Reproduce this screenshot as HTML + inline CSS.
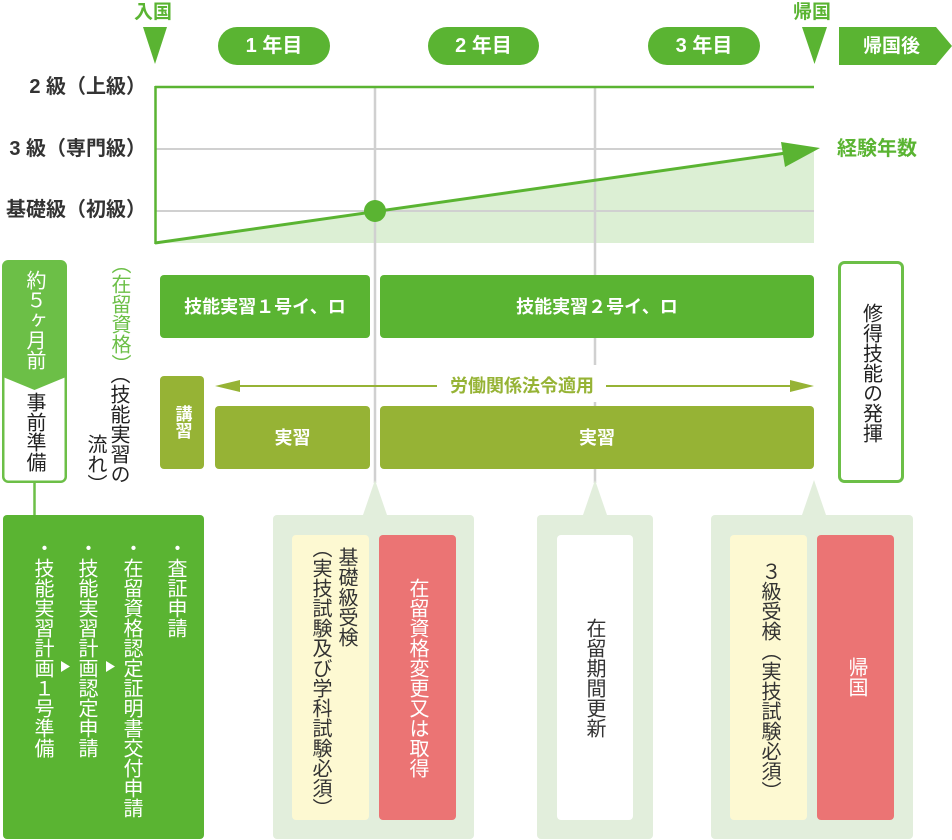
<!DOCTYPE html>
<html><head><meta charset="utf-8">
<style>
*{margin:0;padding:0;box-sizing:border-box}
html,body{width:952px;height:840px;background:#fff;overflow:hidden}
body{position:relative;font-family:"Liberation Sans","Noto Sans CJK JP",sans-serif;color:#333}
svg{position:absolute;left:0;top:0}
.t{position:absolute;white-space:nowrap;line-height:1}
.c{position:absolute;display:flex;align-items:center;justify-content:center;white-space:nowrap;line-height:1}
.v{position:absolute;writing-mode:vertical-rl;white-space:nowrap;line-height:1;font-size:20px;width:20px}
.b{font-weight:bold}
.w{color:#fff}
</style></head><body>
<svg width="952" height="840" xmlns="http://www.w3.org/2000/svg">
  <polygon points="155,243 814,149 814,243" fill="#dcefd4"/>
  <line x1="155" y1="149" x2="814" y2="149" stroke="#d0d0d0" stroke-width="2"/>
  <line x1="155" y1="211" x2="814" y2="211" stroke="#d0d0d0" stroke-width="2"/>
  <line x1="375" y1="87" x2="375" y2="483" stroke="#d0d0d0" stroke-width="2.5"/>
  <line x1="595" y1="87" x2="595" y2="365" stroke="#d0d0d0" stroke-width="2.5"/>
  <line x1="595" y1="402" x2="595" y2="483" stroke="#d0d0d0" stroke-width="2.5"/>
  <line x1="155" y1="87" x2="814" y2="87" stroke="#5ab432" stroke-width="2.5"/>
  <line x1="155.5" y1="86" x2="155.5" y2="244" stroke="#5ab432" stroke-width="2.5"/>
  <line x1="155" y1="243" x2="786" y2="153" stroke="#5ab432" stroke-width="3"/>
  <polygon points="820,148 781,142 785,167" fill="#5ab432"/>
  <circle cx="375" cy="211" r="11" fill="#5ab432"/>
  <polygon points="143,27 167,27 155,64" fill="#5ab432"/>
  <polygon points="802,27 827,27 814.5,64" fill="#5ab432"/>
  <rect x="218" y="27" width="112" height="38" rx="19" fill="#5ab432"/>
  <rect x="428" y="27" width="111" height="38" rx="19" fill="#5ab432"/>
  <rect x="648" y="27" width="112" height="38" rx="19" fill="#5ab432"/>
  <polygon points="839,27 936,27 952,46 936,65 839,65" fill="#5ab432"/>

  <rect x="3.25" y="261.25" width="62.5" height="220.5" rx="5" fill="#fff" stroke="#6cbf47" stroke-width="2.5"/>
  <path d="M3,377 L3,266 Q3,261 8,261 L61,261 Q66,261 66,266 L66,377 L34.5,390 Z" fill="#6cbf47"/>
  <line x1="34.5" y1="482" x2="34.5" y2="516" stroke="#6cbf47" stroke-width="2.5"/>

  <rect x="160" y="275" width="210" height="63" rx="4" fill="#5ab432"/>
  <rect x="380" y="275" width="434" height="63" rx="4" fill="#5ab432"/>
  <rect x="160" y="376" width="44" height="93" rx="4" fill="#96b335"/>
  <rect x="215" y="406" width="155" height="63" rx="4" fill="#96b335"/>
  <rect x="380" y="406" width="434" height="63" rx="4" fill="#96b335"/>
  <line x1="238" y1="386" x2="437" y2="386" stroke="#96b335" stroke-width="2"/>
  <line x1="606" y1="386" x2="792" y2="386" stroke="#96b335" stroke-width="2"/>
  <polygon points="215,386 240,380 240,392" fill="#96b335"/>
  <polygon points="814,386 790,380 790,392" fill="#96b335"/>

  <rect x="839.5" y="262.5" width="63" height="219" rx="5" fill="#fff" stroke="#6cbf47" stroke-width="3"/>

  <polygon points="363,515 387,515 375,480" fill="#e2eedc"/>
  <polygon points="583,515 607,515 595,480" fill="#e2eedc"/>
  <polygon points="802,515 826,515 814,480" fill="#e2eedc"/>

  <rect x="3" y="515" width="201" height="324" rx="4" fill="#5ab432"/>
  <polygon points="61,661 61,672 70,666.5" fill="#fff"/>
  <polygon points="106,661 106,672 115,666.5" fill="#fff"/>

  <rect x="273" y="515" width="201" height="324" rx="4" fill="#e2eedc"/>
  <rect x="292" y="535" width="77" height="285" rx="4" fill="#fdf9d2"/>
  <rect x="379" y="535" width="77" height="285" rx="4" fill="#eb7474"/>

  <rect x="537" y="515" width="116" height="324" rx="4" fill="#e2eedc"/>
  <rect x="557" y="535" width="76" height="285" rx="4" fill="#fff"/>

  <rect x="711" y="515" width="202" height="324" rx="4" fill="#e2eedc"/>
  <rect x="730" y="535" width="77" height="285" rx="4" fill="#fdf9d2"/>
  <rect x="817" y="535" width="77" height="285" rx="4" fill="#eb7474"/>
</svg>

<div class="t b" style="left:134px;top:3px;font-size:19px;color:#5ab432">入国</div>
<div class="t b" style="left:793px;top:3px;font-size:19px;color:#5ab432">帰国</div>
<div class="c b w" style="left:218px;top:27px;width:112px;height:38px;font-size:20px">1 年目</div>
<div class="c b w" style="left:428px;top:27px;width:111px;height:38px;font-size:20px">2 年目</div>
<div class="c b w" style="left:648px;top:27px;width:112px;height:38px;font-size:20px">3 年目</div>
<div class="c b w" style="left:839px;top:27px;width:105px;height:38px;font-size:19px">帰国後</div>

<div class="t b" style="right:806px;top:77px;font-size:20px;text-align:right;color:#333">2 級（上級）</div>
<div class="t b" style="right:806px;top:139px;font-size:20px;text-align:right;color:#333">3 級（専門級）</div>
<div class="t b" style="right:806px;top:200px;font-size:20px;text-align:right;color:#333">基礎級（初級）</div>
<div class="t b" style="left:837px;top:139px;font-size:20px;color:#5ab432">経験年数</div>

<div class="v w" style="left:24px;top:270px">約５ヶ月前</div>
<div class="v" style="left:24px;top:392px;color:#222">事前準備</div>

<div class="v" style="left:109px;top:254px;color:#6cbf47">（在留資格）</div>
<div class="v" style="left:108px;top:364px;color:#222">（技能実習の</div>
<div class="v" style="left:85px;top:434px;color:#222">流れ）</div>

<div class="c b w" style="left:160px;top:275px;width:210px;height:63px;font-size:18px">技能実習１号イ、ロ</div>
<div class="c b w" style="left:380px;top:275px;width:434px;height:63px;font-size:18px">技能実習２号イ、ロ</div>
<div class="v b w" style="left:173.5px;top:405px;font-size:17px;width:17px">講習</div>
<div class="c b w" style="left:215px;top:406px;width:155px;height:63px;font-size:18px">実習</div>
<div class="c b w" style="left:380px;top:406px;width:434px;height:63px;font-size:18px">実習</div>
<div class="t b" style="left:450px;top:377px;font-size:18px;color:#96b335">労働関係法令適用</div>

<div class="v" style="left:860.5px;top:303px;color:#222">修得技能の発揮</div>

<div class="v w" style="left:32px;top:538px">・技能実習計画１号準備</div>
<div class="v w" style="left:76px;top:538px">・技能実習計画認定申請</div>
<div class="v w" style="left:121px;top:538px">・在留資格認定証明書交付申請</div>
<div class="v w" style="left:165px;top:538px">・査証申請</div>

<div class="v" style="left:336px;top:547px;color:#333">基礎級受検</div>
<div class="v" style="left:310px;top:538px;color:#333">（実技試験及び学科試験必須）</div>
<div class="v w" style="left:407px;top:578px">在留資格変更又は取得</div>

<div class="v" style="left:584px;top:618px;color:#333">在留期間更新</div>

<div class="v" style="left:759px;top:561px;color:#333">３級受検（実技試験必須）</div>
<div class="v w" style="left:846px;top:657px">帰国</div>
</body></html>
